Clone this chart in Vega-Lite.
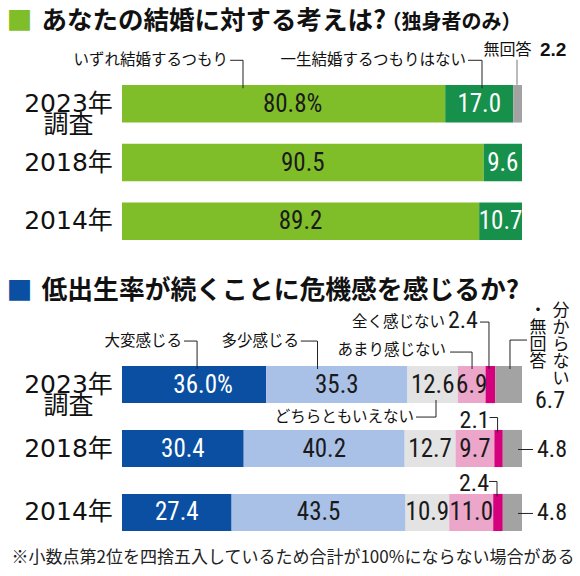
{
  "$schema": "https://vega.github.io/schema/vega-lite/v6.json",
  "background": "white",
  "autosize": "none",
  "padding": {"left": 122, "top": 85, "right": 458, "bottom": 491},
  "bounds": "flush",
  "spacing": 126,
  "resolve": {"scale": {"color": "independent", "x": "independent", "y": "independent"}},
  "config": {
    "view": {"stroke": null},
    "axis": {"domain": false, "ticks": false, "grid": false, "tickSize": 0, "titleLimit": 1000}
  },
  "vconcat": [
    {
      "width": 400,
      "height": 155,
      "data": {
        "values": [
          {"year": "2023年調査", "cat": "いずれ結婚するつもり", "value": 80.8},
          {"year": "2023年調査", "cat": "一生結婚するつもりはない", "value": 17.0},
          {"year": "2023年調査", "cat": "無回答", "value": 2.2},
          {"year": "2018年", "cat": "いずれ結婚するつもり", "value": 90.5},
          {"year": "2018年", "cat": "一生結婚するつもりはない", "value": 9.6},
          {"year": "2014年", "cat": "いずれ結婚するつもり", "value": 89.2},
          {"year": "2014年", "cat": "一生結婚するつもりはない", "value": 10.7}
        ]
      },
      "transform": [
        {"stack": "value", "groupby": ["year"], "offset": "normalize", "as": ["x0", "x1"]},
        {"calculate": "(datum.x0 + datum.x1) / 2", "as": "mid"}
      ],
      "resolve": {"axis": {"y": "independent"}},
      "encoding": {
        "y": {
          "field": "year",
          "type": "nominal",
          "scale": {"domain": ["2023年調査", "2018年", "2014年"], "paddingInner": 0.36, "paddingOuter": 0},
          "axis": null
        }
      },
      "layer": [
        {
          "mark": {"type": "bar"},
          "encoding": {
            "x": {"field": "x0", "type": "quantitative", "scale": {"domain": [0, 1]}, "axis": null},
            "x2": {"field": "x1"},
            "y": {
              "field": "year",
              "type": "nominal",
              "scale": {"domain": ["2023年調査", "2018年", "2014年"], "paddingInner": 0.36, "paddingOuter": 0},
              "axis": {
                "orient": "left",
                "title": "■",
                "titleX": -103,
                "titleY": -64,
                "titleAngle": 0,
                "titleAlign": "center",
                "titleBaseline": "middle",
                "titleFont": "Noto Sans CJK JP",
                "titleFontSize": 26,
                "titleColor": "#80be29",
                "labelAlign": "center",
                "labelBaseline": "middle",
                "labelPadding": 54,
                "labelFont": "DejaVu Sans, Noto Sans CJK JP",
                "labelFontSize": 25,
                "labelColor": "#111111",
                "labelLineHeight": 21,
                "labelExpr": "datum.label === '2023年調査' ? ['2023年', '調査'] : datum.label"
              }
            },
            "color": {
              "field": "cat",
              "type": "nominal",
              "scale": {
                "domain": ["いずれ結婚するつもり", "一生結婚するつもりはない", "無回答"],
                "range": ["#80be29", "#16904b", "#a3a3a3"]
              },
              "legend": null
            }
          }
        },
        {
          "transform": [{"filter": "datum.cat !== '無回答' && !(datum.year === '2023年調査' && datum.cat === 'いずれ結婚するつもり')"}],
          "mark": {"type": "text", "font": "Liberation Sans Narrow, Roboto Condensed, Liberation Sans, sans-serif", "fontSize": 25},
          "encoding": {
            "x": {"field": "mid", "type": "quantitative", "scale": {"domain": [0, 1]}, "axis": null},
            "y": {
              "field": "year",
              "type": "nominal",
              "scale": {"domain": ["2023年調査", "2018年", "2014年"], "paddingInner": 0.36, "paddingOuter": 0},
              "axis": {
                "orient": "left",
                "labels": false,
                "title": "あなたの結婚に対する考えは?",
                "titleX": -81,
                "titleY": -65,
                "titleAngle": 0,
                "titleAlign": "left",
                "titleBaseline": "middle",
                "titleFont": "Noto Sans CJK JP",
                "titleFontSize": 25.5,
                "titleFontWeight": "bold",
                "titleColor": "#111111"
              }
            },
            "text": {"field": "value", "type": "quantitative", "format": ".1f"},
            "color": {"condition": {"test": "datum.cat === '一生結婚するつもりはない'", "value": "#ffffff"}, "value": "#1a1a1a"}
          }
        },
        {
          "transform": [
            {"filter": "datum.year === '2023年調査' && datum.cat === 'いずれ結婚するつもり'"},
            {"calculate": "format(datum.value, '.1f') + '%'", "as": "label"}
          ],
          "mark": {"type": "text", "font": "Liberation Sans Narrow, Roboto Condensed, Liberation Sans, sans-serif", "fontSize": 25, "dx": 9, "color": "#1a1a1a"},
          "encoding": {
            "x": {"field": "mid", "type": "quantitative", "scale": {"domain": [0, 1]}, "axis": null},
            "y": {
              "field": "year",
              "type": "nominal",
              "scale": {"domain": ["2023年調査", "2018年", "2014年"], "paddingInner": 0.36, "paddingOuter": 0},
              "axis": {
                "orient": "left",
                "labels": false,
                "title": "（独身者のみ）",
                "titleX": 259,
                "titleY": -63,
                "titleAngle": 0,
                "titleAlign": "left",
                "titleBaseline": "middle",
                "titleFont": "Noto Sans CJK JP",
                "titleFontSize": 20,
                "titleFontWeight": "bold",
                "titleColor": "#111111"
              }
            },
            "text": {"field": "label"}
          }
        },
        {
          "transform": [{"filter": "datum.year === '2023年調査' && datum.cat === 'いずれ結婚するつもり'"}],
          "layer": [
            {
              "mark": {"type": "text", "font": "Noto Sans CJK JP", "fontSize": 15.5, "align": "right", "dx": -55.6, "dy": -43.5, "color": "#111111"},
              "encoding": {
                "x": {"field": "mid", "type": "quantitative", "scale": {"domain": [0, 1]}, "axis": null},
                "text": {"field": "cat"}
              }
            },
            {
              "mark": {"type": "tick", "orient": "horizontal", "size": 13, "thickness": 1, "xOffset": -47, "yOffset": -43.5, "color": "#222222", "opacity": 1},
              "encoding": {"x": {"field": "mid", "type": "quantitative", "scale": {"domain": [0, 1]}, "axis": null}}
            },
            {
              "mark": {"type": "tick", "orient": "vertical", "size": 28, "thickness": 1, "xOffset": -40.6, "yOffset": -29.5, "color": "#222222", "opacity": 1},
              "encoding": {"x": {"field": "mid", "type": "quantitative", "scale": {"domain": [0, 1]}, "axis": null}}
            }
          ]
        },
        {
          "transform": [{"filter": "datum.year === '2023年調査' && datum.cat === '一生結婚するつもりはない'"}],
          "layer": [
            {
              "mark": {"type": "text", "font": "Noto Sans CJK JP", "fontSize": 15.5, "align": "right", "dx": -13.2, "dy": -43.5, "color": "#111111"},
              "encoding": {
                "x": {"field": "mid", "type": "quantitative", "scale": {"domain": [0, 1]}, "axis": null},
                "text": {"field": "cat"}
              }
            },
            {
              "mark": {"type": "tick", "orient": "horizontal", "size": 14, "thickness": 1, "xOffset": -4.2, "yOffset": -43.5, "color": "#222222", "opacity": 1},
              "encoding": {"x": {"field": "mid", "type": "quantitative", "scale": {"domain": [0, 1]}, "axis": null}}
            },
            {
              "mark": {"type": "tick", "orient": "vertical", "size": 28, "thickness": 1, "xOffset": 2.8, "yOffset": -29.5, "color": "#222222", "opacity": 1},
              "encoding": {"x": {"field": "mid", "type": "quantitative", "scale": {"domain": [0, 1]}, "axis": null}}
            }
          ]
        },
        {
          "transform": [{"filter": "datum.cat === '無回答'"}],
          "layer": [
            {
              "mark": {"type": "text", "font": "Noto Sans CJK JP", "fontSize": 16, "dx": -10, "dy": -54, "color": "#111111"},
              "encoding": {
                "x": {"field": "mid", "type": "quantitative", "scale": {"domain": [0, 1]}, "axis": null},
                "text": {"field": "cat"}
              }
            },
            {
              "mark": {"type": "text", "font": "Liberation Sans, sans-serif", "fontSize": 19, "fontWeight": "bold", "align": "left", "dx": 22.4, "dy": -54, "color": "#111111"},
              "encoding": {
                "x": {"field": "mid", "type": "quantitative", "scale": {"domain": [0, 1]}, "axis": null},
                "text": {"field": "value", "type": "quantitative", "format": ".1f"}
              }
            },
            {
              "mark": {"type": "tick", "orient": "vertical", "size": 25, "thickness": 1.2, "xOffset": -0.6, "yOffset": -31.5, "color": "#8c8c8c", "opacity": 1},
              "encoding": {"x": {"field": "mid", "type": "quantitative", "scale": {"domain": [0, 1]}, "axis": null}}
            }
          ]
        }
      ]
    },
    {
      "width": 400,
      "height": 165,
      "data": {
        "values": [
          {"year": "2023年調査", "cat": "大変感じる", "value": 36.0},
          {"year": "2023年調査", "cat": "多少感じる", "value": 35.3},
          {"year": "2023年調査", "cat": "どちらともいえない", "value": 12.6},
          {"year": "2023年調査", "cat": "あまり感じない", "value": 6.9},
          {"year": "2023年調査", "cat": "全く感じない", "value": 2.4},
          {"year": "2023年調査", "cat": "分からない・無回答", "value": 6.7},
          {"year": "2018年", "cat": "大変感じる", "value": 30.4},
          {"year": "2018年", "cat": "多少感じる", "value": 40.2},
          {"year": "2018年", "cat": "どちらともいえない", "value": 12.7},
          {"year": "2018年", "cat": "あまり感じない", "value": 9.7},
          {"year": "2018年", "cat": "全く感じない", "value": 2.1},
          {"year": "2018年", "cat": "分からない・無回答", "value": 4.8},
          {"year": "2014年", "cat": "大変感じる", "value": 27.4},
          {"year": "2014年", "cat": "多少感じる", "value": 43.5},
          {"year": "2014年", "cat": "どちらともいえない", "value": 10.9},
          {"year": "2014年", "cat": "あまり感じない", "value": 11.0},
          {"year": "2014年", "cat": "全く感じない", "value": 2.4},
          {"year": "2014年", "cat": "分からない・無回答", "value": 4.8}
        ]
      },
      "transform": [
        {"stack": "value", "groupby": ["year"], "offset": "normalize", "as": ["x0", "x1"]},
        {"calculate": "(datum.x0 + datum.x1) / 2", "as": "mid"}
      ],
      "resolve": {"axis": {"y": "independent"}},
      "encoding": {
        "y": {
          "field": "year",
          "type": "nominal",
          "scale": {"domain": ["2023年調査", "2018年", "2014年"], "paddingInner": 0.42, "paddingOuter": 0},
          "axis": null
        }
      },
      "layer": [
        {
          "mark": {"type": "bar"},
          "encoding": {
            "x": {"field": "x0", "type": "quantitative", "scale": {"domain": [0, 1]}, "axis": null},
            "x2": {"field": "x1"},
            "y": {
              "field": "year",
              "type": "nominal",
              "scale": {"domain": ["2023年調査", "2018年", "2014年"], "paddingInner": 0.42, "paddingOuter": 0},
              "axis": {
                "orient": "left",
                "title": "■",
                "titleX": -103,
                "titleY": -75,
                "titleAngle": 0,
                "titleAlign": "center",
                "titleBaseline": "middle",
                "titleFont": "Noto Sans CJK JP",
                "titleFontSize": 26,
                "titleColor": "#0b4fa3",
                "labelAlign": "center",
                "labelBaseline": "middle",
                "labelPadding": 54,
                "labelFont": "DejaVu Sans, Noto Sans CJK JP",
                "labelFontSize": 25,
                "labelColor": "#111111",
                "labelLineHeight": 21,
                "labelExpr": "datum.label === '2023年調査' ? ['2023年', '調査'] : datum.label"
              }
            },
            "color": {
              "field": "cat",
              "type": "nominal",
              "scale": {
                "domain": ["大変感じる", "多少感じる", "どちらともいえない", "あまり感じない", "全く感じない", "分からない・無回答"],
                "range": ["#0b4fa3", "#a9c1e6", "#e3e3e3", "#eca6ca", "#d4007c", "#a3a3a3"]
              },
              "legend": null
            }
          }
        },
        {
          "transform": [{"filter": "datum.cat !== '全く感じない' && datum.cat !== '分からない・無回答' && !(datum.year === '2023年調査' && datum.cat === '大変感じる')"}],
          "mark": {"type": "text", "font": "Liberation Sans Narrow, Roboto Condensed, Liberation Sans, sans-serif", "fontSize": 25},
          "encoding": {
            "x": {"field": "mid", "type": "quantitative", "scale": {"domain": [0, 1]}, "axis": null},
            "y": {
              "field": "year",
              "type": "nominal",
              "scale": {"domain": ["2023年調査", "2018年", "2014年"], "paddingInner": 0.42, "paddingOuter": 0},
              "axis": {
                "orient": "left",
                "labels": false,
                "title": "低出生率が続くことに危機感を感じるか?",
                "titleX": -81,
                "titleY": -76,
                "titleAngle": 0,
                "titleAlign": "left",
                "titleBaseline": "middle",
                "titleFont": "Noto Sans CJK JP",
                "titleFontSize": 25.8,
                "titleFontWeight": "bold",
                "titleColor": "#111111"
              }
            },
            "text": {"field": "value", "type": "quantitative", "format": ".1f"},
            "color": {"condition": {"test": "datum.cat === '大変感じる'", "value": "#ffffff"}, "value": "#1a1a1a"}
          }
        },
        {
          "transform": [
            {"filter": "datum.year === '2023年調査' && datum.cat === '大変感じる'"},
            {"calculate": "format(datum.value, '.1f') + '%'", "as": "label"}
          ],
          "mark": {"type": "text", "font": "Liberation Sans Narrow, Roboto Condensed, Liberation Sans, sans-serif", "fontSize": 25, "dx": 9, "color": "#ffffff"},
          "encoding": {
            "x": {"field": "mid", "type": "quantitative", "scale": {"domain": [0, 1]}, "axis": null},
            "y": {
              "field": "year",
              "type": "nominal",
              "scale": {"domain": ["2023年調査", "2018年", "2014年"], "paddingInner": 0.42, "paddingOuter": 0},
              "axis": {
                "orient": "left",
                "labels": false,
                "title": "※小数点第2位を四捨五入しているため合計が100%にならない場合がある",
                "titleX": -111,
                "titleY": 191,
                "titleAngle": 0,
                "titleAlign": "left",
                "titleBaseline": "middle",
                "titleFont": "Noto Sans CJK JP",
                "titleFontSize": 17,
                "titleFontWeight": "normal",
                "titleColor": "#222222"
              }
            },
            "text": {"field": "label"}
          }
        },
        {
          "transform": [{"filter": "datum.year === '2023年調査' && datum.cat === '大変感じる'"}],
          "layer": [
            {
              "mark": {"type": "text", "font": "Noto Sans CJK JP", "fontSize": 15.5, "align": "right", "dx": -12, "dy": -43.5, "color": "#111111"},
              "encoding": {
                "x": {"field": "mid", "type": "quantitative", "scale": {"domain": [0, 1]}, "axis": null},
                "text": {"field": "cat"}
              }
            },
            {
              "mark": {"type": "tick", "orient": "horizontal", "size": 13, "thickness": 1, "xOffset": -3.6, "yOffset": -43.5, "color": "#222222", "opacity": 1},
              "encoding": {"x": {"field": "mid", "type": "quantitative", "scale": {"domain": [0, 1]}, "axis": null}}
            },
            {
              "mark": {"type": "tick", "orient": "vertical", "size": 28, "thickness": 1, "xOffset": 3, "yOffset": -29.5, "color": "#222222", "opacity": 1},
              "encoding": {"x": {"field": "mid", "type": "quantitative", "scale": {"domain": [0, 1]}, "axis": null}}
            }
          ]
        },
        {
          "transform": [{"filter": "datum.year === '2023年調査' && datum.cat === '多少感じる'"}],
          "layer": [
            {
              "mark": {"type": "text", "font": "Noto Sans CJK JP", "fontSize": 15.5, "align": "right", "dx": -37.8, "dy": -43.5, "color": "#111111"},
              "encoding": {
                "x": {"field": "mid", "type": "quantitative", "scale": {"domain": [0, 1]}, "axis": null},
                "text": {"field": "cat"}
              }
            },
            {
              "mark": {"type": "tick", "orient": "horizontal", "size": 16.5, "thickness": 1, "xOffset": -27.8, "yOffset": -43.5, "color": "#222222", "opacity": 1},
              "encoding": {"x": {"field": "mid", "type": "quantitative", "scale": {"domain": [0, 1]}, "axis": null}}
            },
            {
              "mark": {"type": "tick", "orient": "vertical", "size": 28, "thickness": 1, "xOffset": -19.3, "yOffset": -29.5, "color": "#222222", "opacity": 1},
              "encoding": {"x": {"field": "mid", "type": "quantitative", "scale": {"domain": [0, 1]}, "axis": null}}
            }
          ]
        },
        {
          "transform": [{"filter": "datum.year === '2023年調査' && datum.cat === 'あまり感じない'"}],
          "layer": [
            {
              "mark": {"type": "text", "font": "Noto Sans CJK JP", "fontSize": 15.5, "align": "right", "dx": -25.7, "dy": -34.5, "color": "#111111"},
              "encoding": {
                "x": {"field": "mid", "type": "quantitative", "scale": {"domain": [0, 1]}, "axis": null},
                "text": {"field": "cat"}
              }
            },
            {
              "mark": {"type": "tick", "orient": "horizontal", "size": 22, "thickness": 1, "xOffset": -10.7, "yOffset": -32.5, "color": "#222222", "opacity": 1},
              "encoding": {"x": {"field": "mid", "type": "quantitative", "scale": {"domain": [0, 1]}, "axis": null}}
            },
            {
              "mark": {"type": "tick", "orient": "vertical", "size": 17, "thickness": 1, "xOffset": 0.3, "yOffset": -24, "color": "#222222", "opacity": 1},
              "encoding": {"x": {"field": "mid", "type": "quantitative", "scale": {"domain": [0, 1]}, "axis": null}}
            }
          ]
        },
        {
          "transform": [{"filter": "datum.year === '2023年調査' && datum.cat === 'どちらともいえない'"}],
          "layer": [
            {
              "mark": {"type": "text", "font": "Noto Sans CJK JP", "fontSize": 15.5, "align": "right", "dx": -18.7, "dy": 32.5, "color": "#111111"},
              "encoding": {
                "x": {"field": "mid", "type": "quantitative", "scale": {"domain": [0, 1]}, "axis": null},
                "text": {"field": "cat"}
              }
            },
            {
              "mark": {"type": "tick", "orient": "horizontal", "size": 20, "thickness": 1, "xOffset": -6.7, "yOffset": 32.5, "color": "#222222", "opacity": 1},
              "encoding": {"x": {"field": "mid", "type": "quantitative", "scale": {"domain": [0, 1]}, "axis": null}}
            },
            {
              "mark": {"type": "tick", "orient": "vertical", "size": 17, "thickness": 1, "xOffset": 3.3, "yOffset": 24, "color": "#222222", "opacity": 1},
              "encoding": {"x": {"field": "mid", "type": "quantitative", "scale": {"domain": [0, 1]}, "axis": null}}
            }
          ]
        },
        {
          "transform": [{"filter": "datum.year === '2023年調査' && datum.cat === '全く感じない'"}],
          "layer": [
            {
              "mark": {"type": "text", "font": "Noto Sans CJK JP", "fontSize": 15.5, "align": "right", "dx": -45.4, "dy": -62.5, "color": "#111111"},
              "encoding": {
                "x": {"field": "mid", "type": "quantitative", "scale": {"domain": [0, 1]}, "axis": null},
                "text": {"field": "cat"}
              }
            },
            {
              "mark": {"type": "text", "font": "Liberation Sans Narrow, Roboto Condensed, Liberation Sans, sans-serif", "fontSize": 24, "align": "right", "dx": -12.4, "dy": -64, "color": "#1a1a1a"},
              "encoding": {
                "x": {"field": "mid", "type": "quantitative", "scale": {"domain": [0, 1]}, "axis": null},
                "text": {"field": "value", "type": "quantitative", "format": ".1f"}
              }
            },
            {
              "mark": {"type": "tick", "orient": "horizontal", "size": 9, "thickness": 1, "xOffset": -5.9, "yOffset": -62.5, "color": "#222222", "opacity": 1},
              "encoding": {"x": {"field": "mid", "type": "quantitative", "scale": {"domain": [0, 1]}, "axis": null}}
            },
            {
              "mark": {"type": "tick", "orient": "vertical", "size": 47, "thickness": 1, "xOffset": -1.4, "yOffset": -39, "color": "#222222", "opacity": 1},
              "encoding": {"x": {"field": "mid", "type": "quantitative", "scale": {"domain": [0, 1]}, "axis": null}}
            }
          ]
        },
        {
          "transform": [{"filter": "datum.year !== '2023年調査' && datum.cat === '全く感じない'"}],
          "layer": [
            {
              "mark": {"type": "text", "font": "Liberation Sans Narrow, Roboto Condensed, Liberation Sans, sans-serif", "fontSize": 24, "align": "right", "dx": -9, "dy": -28, "color": "#1a1a1a"},
              "encoding": {
                "x": {"field": "mid", "type": "quantitative", "scale": {"domain": [0, 1]}, "axis": null},
                "text": {"field": "value", "type": "quantitative", "format": ".1f"}
              }
            },
            {
              "mark": {"type": "tick", "orient": "horizontal", "size": 8, "thickness": 1, "xOffset": -5, "yOffset": -31, "color": "#222222", "opacity": 1},
              "encoding": {"x": {"field": "mid", "type": "quantitative", "scale": {"domain": [0, 1]}, "axis": null}}
            },
            {
              "mark": {"type": "tick", "orient": "vertical", "size": 15, "thickness": 1, "xOffset": -1, "yOffset": -23.5, "color": "#222222", "opacity": 1},
              "encoding": {"x": {"field": "mid", "type": "quantitative", "scale": {"domain": [0, 1]}, "axis": null}}
            }
          ]
        },
        {
          "transform": [{"filter": "datum.year === '2023年調査' && datum.cat === '分からない・無回答'"}],
          "layer": [
            {
              "mark": {"type": "text", "text": "分\nか\nら\nな\nい", "lineBreak": "\n", "lineHeight": 17, "font": "Noto Sans CJK JP", "fontSize": 17, "baseline": "top", "dx": 52.4, "dy": -81.5, "color": "#111111"},
              "encoding": {"x": {"field": "mid", "type": "quantitative", "scale": {"domain": [0, 1]}, "axis": null}}
            },
            {
              "mark": {"type": "text", "text": "・\n無\n回\n答", "lineBreak": "\n", "lineHeight": 17, "font": "Noto Sans CJK JP", "fontSize": 17, "baseline": "top", "dx": 29.4, "dy": -81.5, "color": "#111111"},
              "encoding": {"x": {"field": "mid", "type": "quantitative", "scale": {"domain": [0, 1]}, "axis": null}}
            },
            {
              "mark": {"type": "text", "font": "Liberation Sans Narrow, Roboto Condensed, Liberation Sans, sans-serif", "fontSize": 24, "dx": 41.4, "dy": 16.5, "color": "#1a1a1a"},
              "encoding": {
                "x": {"field": "mid", "type": "quantitative", "scale": {"domain": [0, 1]}, "axis": null},
                "text": {"field": "value", "type": "quantitative", "format": ".1f"}
              }
            },
            {
              "mark": {"type": "tick", "orient": "horizontal", "size": 17, "thickness": 1, "xOffset": 9.9, "yOffset": -44.5, "color": "#222222", "opacity": 1},
              "encoding": {"x": {"field": "mid", "type": "quantitative", "scale": {"domain": [0, 1]}, "axis": null}}
            },
            {
              "mark": {"type": "tick", "orient": "vertical", "size": 29, "thickness": 1, "xOffset": 1.4, "yOffset": -30, "color": "#222222", "opacity": 1},
              "encoding": {"x": {"field": "mid", "type": "quantitative", "scale": {"domain": [0, 1]}, "axis": null}}
            }
          ]
        },
        {
          "transform": [{"filter": "datum.year !== '2023年調査' && datum.cat === '分からない・無回答'"}],
          "layer": [
            {
              "mark": {"type": "text", "font": "Liberation Sans Narrow, Roboto Condensed, Liberation Sans, sans-serif", "fontSize": 24, "align": "left", "dx": 15, "dy": 1, "color": "#1a1a1a"},
              "encoding": {
                "x": {"field": "x1", "type": "quantitative", "scale": {"domain": [0, 1]}, "axis": null},
                "text": {"field": "value", "type": "quantitative", "format": ".1f"}
              }
            },
            {
              "mark": {"type": "tick", "orient": "horizontal", "size": 15, "thickness": 1, "xOffset": 3.5, "yOffset": 1, "color": "#222222", "opacity": 1},
              "encoding": {"x": {"field": "x1", "type": "quantitative", "scale": {"domain": [0, 1]}, "axis": null}}
            }
          ]
        }
      ]
    }
  ]
}
